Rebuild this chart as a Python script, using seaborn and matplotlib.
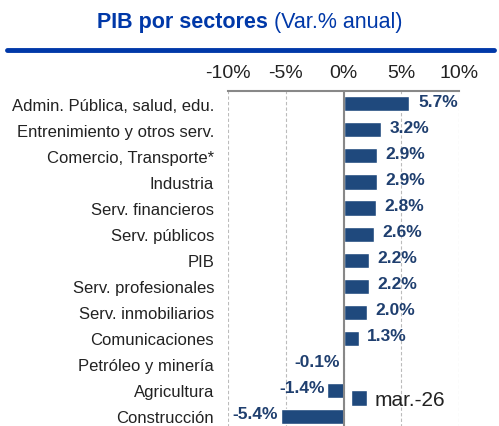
import matplotlib
matplotlib.use("Agg")
import matplotlib.pyplot as plt
import seaborn as sns
import pandas as pd

sectores = ["Admin. Pública, salud, edu.", "Entrenimiento y otros serv.",
            "Comercio, Transporte*", "Industria", "Serv. financieros",
            "Serv. públicos", "PIB", "Serv. profesionales",
            "Serv. inmobiliarios", "Comunicaciones", "Petróleo y minería",
            "Agricultura", "Construcción"]
variacion = [5.7, 3.2, 2.9, 2.9, 2.8, 2.6, 2.2, 2.2, 2.0, 1.3, -0.1, -1.4, -5.4]
ticks = [-10, -5, 0, 5, 10]
serie = "mar.-26"

df = pd.DataFrame({"sector": sectores, "var": variacion})

sns.set_theme(style="white")
plt.rcParams["font.family"] = ["Liberation Sans", "DejaVu Sans"]

barra = "#1F497D"
azul = "#0038A8"
texto = "#1F3F6F"

fig = plt.figure(figsize=(4.99, 4.27), dpi=100)
ax = fig.add_axes([0.457, -0.005, 0.463, 0.79])

sns.barplot(data=df, x="var", y="sector", color=barra, saturation=1,
            width=0.58, ax=ax, label=serie)

ax.set_xlim(-10, 10)
ax.set_ylim(12.45, -0.5)
ax.set_xticks(ticks)
ax.set_xticklabels([f"{t}%" for t in ticks], fontsize=14, color="#222222")
ax.xaxis.tick_top()
ax.tick_params(axis="x", length=0, pad=7)
ax.tick_params(axis="y", length=0, pad=10, labelsize=12, labelcolor="#222222")
ax.set_xlabel("")
ax.set_ylabel("")
ax.grid(axis="x", color="#BBBBBB", linestyle=(0, (3, 2)), linewidth=0.8)
ax.set_axisbelow(True)
for s in ["left", "right", "bottom"]:
    ax.spines[s].set_visible(False)
ax.spines["top"].set_color("#888888")
ax.spines["top"].set_linewidth(1.5)
ax.axvline(0, color="#888888", linewidth=1.5, zorder=3)

for i, v in enumerate(variacion):
    if v >= 0:
        ax.text(v + 0.75, i - 0.1, f"{v:.1f}%", ha="left", va="center",
                fontsize=12.5, fontweight="bold", color=texto)
    else:
        ax.text(v - 0.25, i - 0.1, f"{v:.1f}%", ha="right", va="center",
                fontsize=12.5, fontweight="bold", color=texto)

leg = ax.legend(loc="lower right", bbox_to_anchor=(1.02, 0.0), frameon=False,
                fontsize=15, handlelength=0.75, handleheight=0.75,
                handletextpad=0.35)
for t in leg.get_texts():
    t.set_color("#222222")

fig.text(0.536, 0.948, "PIB por sectores", ha="right", va="center",
         fontsize=15.5, fontweight="bold", color=azul)
fig.text(0.550, 0.948, "(Var.% anual)", ha="left", va="center",
         fontsize=15.5, color=azul)
fig.add_artist(plt.Line2D([0.014, 0.99], [0.880, 0.880], color=azul,
                          linewidth=3.5, transform=fig.transFigure))

fig.savefig("out.png", dpi=100)
